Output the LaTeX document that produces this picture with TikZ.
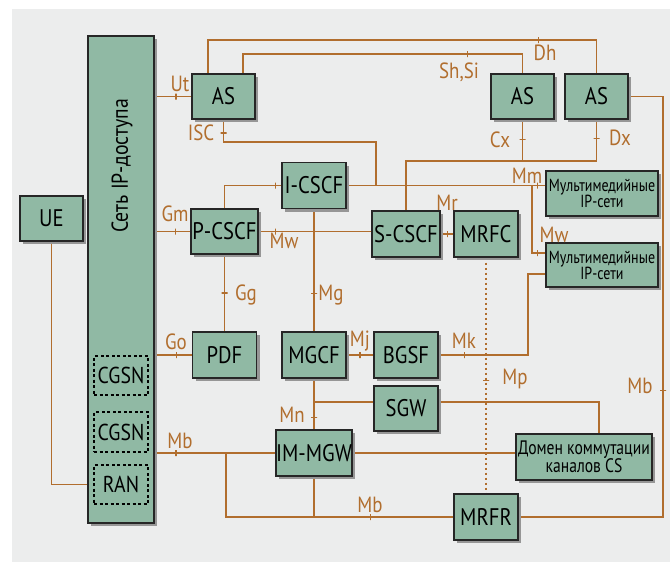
\documentclass[tikz,border=0pt]{standalone}
\usepackage{fontspec}
\setmainfont{PT Sans}[FakeStretch=0.86]
\newfontfamily\narrowfont{PT Sans}[FakeStretch=0.8]
\usetikzlibrary{shadows}

\definecolor{panelgrey}{RGB}{236,237,237}
\definecolor{boxgreen}{RGB}{144,185,164}
\definecolor{wirebrown}{RGB}{177,110,46}
\definecolor{shadowgrey}{RGB}{150,150,150}

\pgfdeclarelayer{panel}
\pgfdeclarelayer{wires}
\pgfsetlayers{panel,wires,main}

\begin{document}
\begin{tikzpicture}[x=1pt,y=1pt,yscale=-1,xscale=1,
  box/.style={draw=black!85, fill=boxgreen, line width=1.3pt, inner sep=0pt,
    font=\fontsize{24}{24}\selectfont,
    drop shadow={shadow xshift=3pt, shadow yshift=-3pt, fill=shadowgrey, opacity=1}},
  dbox/.style={draw=black, dash pattern=on 3pt off 2.5pt, line width=1.3pt, inner sep=0pt,
    font=\fontsize{23}{23}\selectfont},
  mbox/.style={box, align=center, font=\narrowfont\fontsize{17.5}{16}\selectfont},
  wire/.style={draw=wirebrown, line width=1.4pt},
  lbl/.style={text=wirebrown, inner sep=1pt, font=\fontsize{22}{22}\selectfont},
  tickmark/.style={draw=wirebrown, solid, line width=1.2pt, inner sep=0pt,
    minimum width=0pt, minimum height=6pt, sloped},
]
\useasboundingbox (0,0) rectangle (670,562);
\begin{pgfonlayer}{panel}
  \fill[panelgrey] (12,9) rectangle (670,562);
\end{pgfonlayer}

% Access network
\node[box, minimum width=66, minimum height=487] (netbox) at (121,279.5) {};
\node[rotate=90, inner sep=0pt, font=\fontsize{23}{23}\selectfont] (netlabel) at (122,166) {Сеть IP-доступа};
\node[dbox, minimum width=54, minimum height=39] (cgsnA) at (121,375.5) {CGSN};
\node[dbox, minimum width=54, minimum height=40] (cgsnB) at (121,432) {CGSN};
\node[dbox, minimum width=54, minimum height=39] (ran) at (121,484.5) {RAN};
\node[box, minimum width=63, minimum height=45] (ue) at (51.5,218.5) {UE};

% Application servers
\node[box, minimum width=63, minimum height=45] (asA) at (223.5,96.5) {AS};
\node[box, minimum width=63, minimum height=45] (asB) at (522.5,96.5) {AS};
\node[box, minimum width=63, minimum height=45] (asC) at (596.5,96.5) {AS};

% Control
\node[box, minimum width=64, minimum height=46] (icscf) at (314,185.5) {I-CSCF};
\node[box, minimum width=67, minimum height=45] (pcscf) at (224.5,231.5) {P-CSCF};
\node[box, minimum width=68, minimum height=46] (scscf) at (406,234) {S-CSCF};
\node[box, minimum width=64, minimum height=46] (mrfc) at (486,234) {MRFC};
\node[mbox, minimum width=112, minimum height=45] (mmA) at (602,193.5) {Мультимедийные\\IP-сети};
\node[mbox, minimum width=112, minimum height=44] (mmB) at (602,265) {Мультимедийные\\IP-сети};
\node[box, minimum width=64, minimum height=46] (pdf) at (224.5,355) {PDF};
\node[box, minimum width=64, minimum height=46] (mgcf) at (314,355) {MGCF};
\node[box, minimum width=64, minimum height=46] (bgsf) at (406,355) {BGSF};
\node[box, minimum width=64, minimum height=45] (sgw) at (406,408.5) {SGW};
\node[box, minimum width=67, minimum height=46] (immgw) at (314,453) {IM-MGW};
\node[mbox, minimum width=136, minimum height=46, font=\narrowfont\fontsize{19.5}{18}\selectfont] (domain) at (584,457) {Домен коммутации\\каналов CS};
\node[box, minimum width=64, minimum height=46] (mrfr) at (486,517) {MRFR};

% bends
\coordinate (mbsplit) at (226,0);
\coordinate (mbrim) at (663,0);
\coordinate (dhrow) at (208,40);
\coordinate (shrow) at (243,54);
\coordinate (iscbend) at (376,142);
\coordinate (cxrow) at (0,161);
\coordinate (mwbend) at (532,253);
\coordinate (mkbend) at (528,274);
\coordinate (sgwrow) at (599,402);

\begin{pgfonlayer}{wires}
  \draw[wire] (ue.south) |- (netbox.west |- ran);
  \draw[wire] (netbox.east |- asA) -- node[tickmark,pos=.58]{} (asA.west);
  \draw[wire] (netbox.east |- pcscf) -- node[tickmark,pos=.58]{} (pcscf.west);
  \draw[wire] (netbox.east |- pdf) -- node[tickmark,pos=.58]{} (pdf.west);
  \draw[wire] (netbox.east |- immgw) -- node[tickmark,pos=.176]{} (immgw.west);
  \draw[wire] (mbsplit |- immgw) |- node[tickmark,pos=.818]{} (mrfr.west);
  \draw[wire] (immgw.south) -- (immgw.south |- mrfr.west);
  \draw[wire] (mrfr.east) -- (mbrim |- mrfr.east) -- node[tickmark,pos=.3]{} (mbrim |- asC) -- (asC.east);
  % AS links
  \draw[wire] (asA.north -| dhrow) |- node[tickmark,pos=.925]{} (asC.north |- dhrow) -- (asC.north);
  \draw[wire] (asA.north -| shrow) |- node[tickmark,pos=.902]{} (asB.north |- shrow) -- (asB.north);
  \draw[wire] (asA.south) |- node[tickmark,pos=.3]{} (iscbend) -- (iscbend |- icscf.east);
  \draw[wire] (asB.south) -- node[tickmark,pos=.48]{} (asB.south |- cxrow);
  \draw[wire] (asC.south) |- node[tickmark,pos=.23]{} (scscf.north |- cxrow) -- (scscf.north);
  % CSCF
  \draw[wire] (icscf.east) -- node[tickmark,pos=.96]{} (icscf.east -| mmA.west);
  \draw[wire] (mwbend |- icscf.east) -- (mwbend) -- node[tickmark,pos=.43]{} (mwbend -| mmB.west);
  \draw[wire] (pcscf.north) |- node[tickmark,pos=.947]{} (icscf.west);
  \draw[wire] (pcscf.east) -- node[tickmark,pos=.15]{} (pcscf.east -| scscf.west);
  \draw[wire] (scscf.east) -- node[tickmark,pos=.53]{} (mrfc.west);
  \draw[wire] (icscf.south) -- node[tickmark,pos=.69]{} (mgcf.north);
  \draw[wire] (pcscf.south) -- node[tickmark,pos=.5]{} (pdf.north);
  % gateways
  \draw[wire] (mgcf.east) -- node[tickmark,pos=.5]{} (bgsf.west);
  \draw[wire] (bgsf.east) -| node[tickmark,pos=.144]{} (mkbend) -- (mkbend -| mmB.west);
  \draw[wire, dash pattern=on 2.5pt off 2.5pt] (mrfc.south) -- node[tickmark,pos=.52]{} (mrfr.north);
  \draw[wire] (mgcf.south) -- node[tickmark,pos=.77]{} (immgw.north);
  \draw[wire] (mgcf.south |- sgwrow) -- (sgw.west |- sgwrow);
  \draw[wire] (sgw.east |- sgwrow) -| (domain.north -| sgwrow);
  \draw[wire] (immgw.east) -- (immgw.east -| domain.west);
\end{pgfonlayer}

% Text Node
\node[lbl] (lUt) at (180,84) {Ut};
\node[lbl] (lGm) at (175,214) {Gm};
\node[lbl] (lGo) at (176,342) {Go};
\node[lbl] (lMbA) at (180,441) {Mb};
\node[lbl] (lISC) at (201,133) {ISC};
\node[lbl] (lShSi) at (459,72) {Sh,Si};
\node[lbl] (lDh) at (545,53) {Dh};
\node[lbl] (lCx) at (500,140) {Cx};
\node[lbl] (lDx) at (620,138) {Dx};
\node[lbl] (lMm) at (527,176) {Mm};
\node[lbl] (lMwB) at (554,235) {Mw};
\node[lbl] (lMr) at (447,203) {Mr};
\node[lbl] (lMwA) at (284,241) {Mw};
\node[lbl] (lGg) at (246,295) {Gg};
\node[lbl] (lMg) at (331,295) {Mg};
\node[lbl] (lMj) at (360,341) {Mj};
\node[lbl] (lMk) at (464,341) {Mk};
\node[lbl] (lMp) at (515,379) {Mp};
\node[lbl] (lMn) at (292,415) {Mn};
\node[lbl] (lMbB) at (370,505) {Mb};
\node[lbl] (lMbC) at (640,386) {Mb};
\end{tikzpicture}
\end{document}
